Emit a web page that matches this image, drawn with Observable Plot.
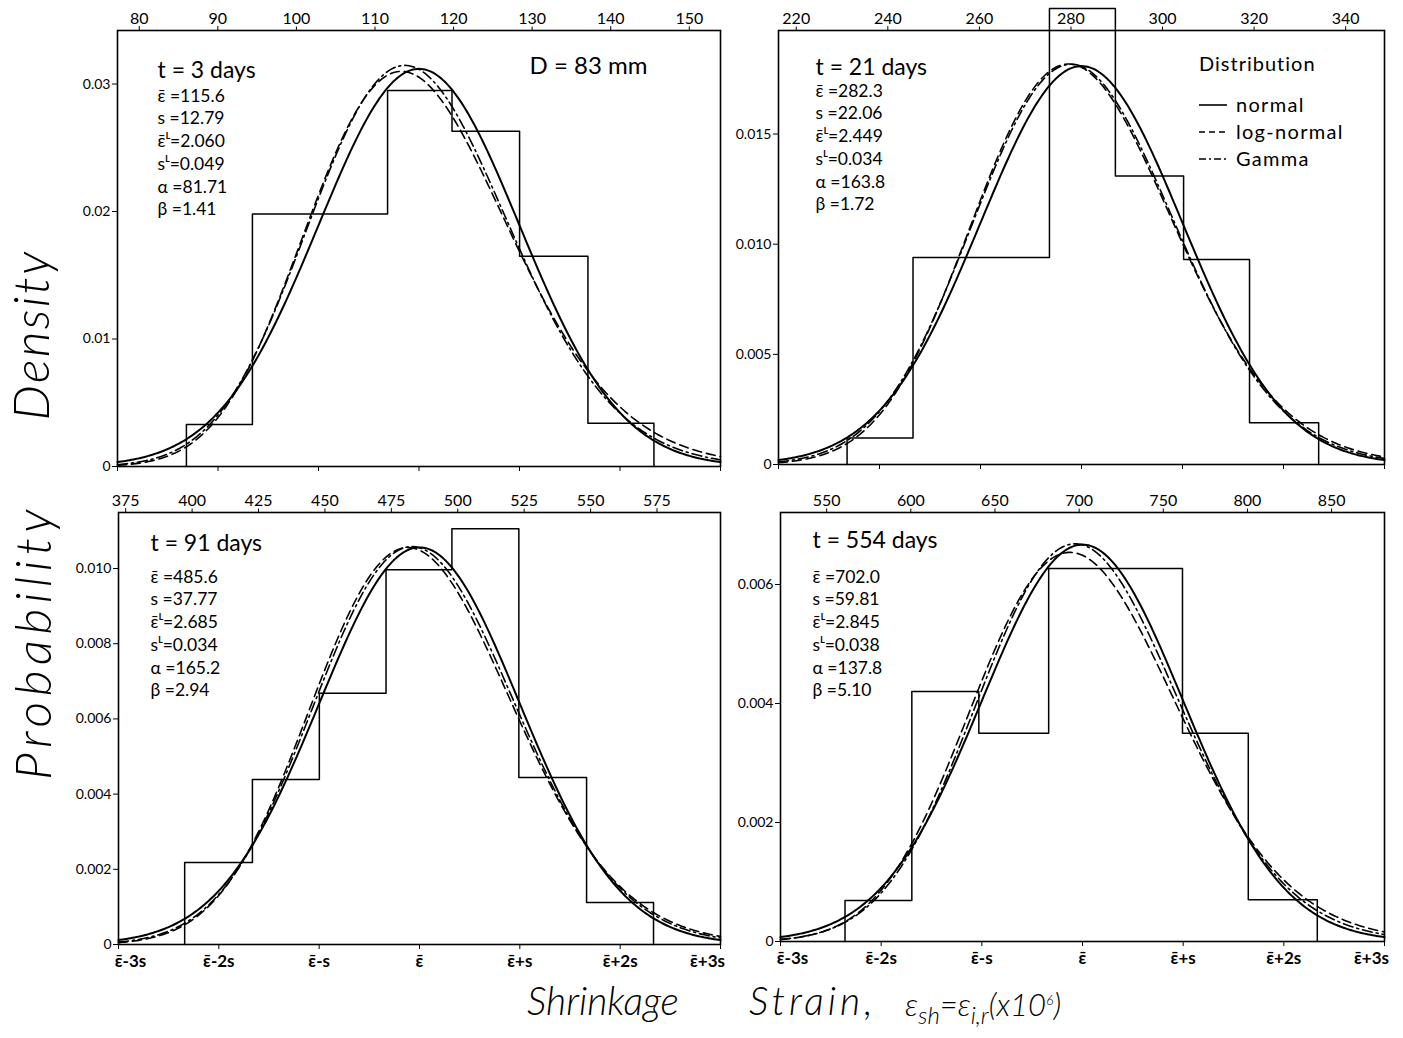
<!DOCTYPE html>
<html><head><meta charset="utf-8">
<script src="https://cdn.jsdelivr.net/npm/d3@7"></script>
<script src="https://cdn.jsdelivr.net/npm/@observablehq/plot@0.6"></script>
<style>
body{margin:0;background:#fff;}
#chart{position:relative;width:1403px;height:1038px;background:#fff;font-family:Lato,"DejaVu Sans",sans-serif;color:#000;overflow:hidden;}
.panel{position:absolute;}
.panel svg{background:transparent !important;overflow:visible;}
.ylab{position:absolute;font-family:Lato,"DejaVu Sans",sans-serif;font-style:italic;font-weight:300;font-size:50px;white-space:nowrap;text-align:center;transform:rotate(-90deg);transform-origin:center;}
.xpart{position:absolute;top:976px;font-family:Lato,"DejaVu Sans",sans-serif;font-style:italic;font-weight:300;font-size:39px;white-space:nowrap;line-height:48px;}
.legend{position:absolute;left:1199px;top:50px;font-size:20px;line-height:27px;}
.legend .row{display:flex;align-items:center;letter-spacing:1.3px;}
.legend svg{width:28px;height:10px;margin-right:9px;}
</style></head>
<body><div id="chart"></div>
<script>
// ---- data ----
const panelTitles = ["t = 3 days", "t = 21 days", "t = 91 days", "t = 554 days"];
const means   = [115.6, 282.3, 485.6, 702.0];
const sds     = [12.79, 22.06, 37.77, 59.81];
const logMeans= [2.060, 2.449, 2.685, 2.845];
const logSds  = [0.049, 0.034, 0.034, 0.038];
const alphas  = [81.71, 163.8, 165.2, 137.8];
const betas   = [1.41, 1.72, 2.94, 5.10];
const meanLabels = ["115.6", "282.3", "485.6", "702.0"];
const sdLabels   = ["12.79", "22.06", "37.77", "59.81"];
const logMeanLabels = ["2.060", "2.449", "2.685", "2.845"];
const logSdLabels   = ["0.049", "0.034", "0.034", "0.038"];
const alphaLabels = ["81.71", "163.8", "165.2", "137.8"];
const betaLabels  = ["1.41", "1.72", "2.94", "5.10"];

const topTicks = [
  [80, 90, 100, 110, 120, 130, 140, 150],
  [220, 240, 260, 280, 300, 320, 340],
  [375, 400, 425, 450, 475, 500, 525, 550, 575],
  [550, 600, 650, 700, 750, 800, 850]
];
const yTicks = [
  [0, 0.01, 0.02, 0.03],
  [0, 0.005, 0.010, 0.015],
  [0, 0.002, 0.004, 0.006, 0.008, 0.010],
  [0, 0.002, 0.004, 0.006]
];
const yDecimals = [2, 3, 3, 3];
const yTops = [0.0342, 0.0197, 0.01149, 0.00721];

const binEdges = [
  [86.0, 94.4, 111.6, 119.8, 128.4, 137.1, 145.5],
  [231.1, 245.5, 275.3, 289.7, 304.6, 319.0, 334.1],
  [397.2, 422.7, 447.9, 473.0, 497.8, 523.0, 548.5, 573.7],
  [560.9, 600.6, 640.4, 681.9, 761.4, 800.5, 841.5]
];
const binHeights = [
  [0.0033, 0.0198, 0.0295, 0.0263, 0.0165, 0.0034],
  [0.0012, 0.0094, 0.0207, 0.0131, 0.0093, 0.0019],
  [0.00218, 0.00439, 0.00668, 0.00997, 0.01106, 0.00444, 0.00112],
  [0.00069, 0.0042, 0.0035, 0.00627, 0.0035, 0.0007]
];
const sigmaSteps  = [-3, -2, -1, 0, 1, 2, 3];
const sigmaLabels = ["ε̄-3s", "ε̄-2s", "ε̄-s", "ε̄", "ε̄+s", "ε̄+2s", "ε̄+3s"];
const legendItems = ["normal", "log-normal", "Gamma"];

// ---- layout of each panel (positions/sizes only) ----
const layout = [
  {left: 40,  top: 0,   width: 690, height: 486, mL: 77, mR: 10, mT: 30, mB: 20, bottomLabels: false,
   title: {dx: 40, dy: 40}, params: {dx: 40, dy: 55}},
  {left: 700, top: 0,   width: 694, height: 484, mL: 78, mR: 10, mT: 30, mB: 20, bottomLabels: false,
   title: {dx: 37, dy: 37}, params: {dx: 37, dy: 50}},
  {left: 40,  top: 480, width: 690, height: 504, mL: 78, mR: 10, mT: 32, mB: 40, bottomLabels: true,
   title: {dx: 32, dy: 31}, params: {dx: 32, dy: 54}},
  {left: 700, top: 480, width: 694, height: 501, mL: 80, mR: 10, mT: 32, mB: 40, bottomLabels: true,
   title: {dx: 32, dy: 28}, params: {dx: 32, dy: 54}}
];

function lnGamma(z) {
  return (z - 0.5) * Math.log(z) - z + 0.5 * Math.log(2 * Math.PI) + 1 / (12 * z) - 1 / (360 * z * z * z);
}

const chart = document.getElementById("chart");

for (let i = 0; i < 4; i++) {
  const L = layout[i];
  const m = means[i], s = sds[i];
  const lo = m - 3 * s, hi = m + 3 * s;
  const xs = d3.range(0, 301).map(k => lo + (hi - lo) * k / 300);
  const normal = xs.map(x => ({x, y: Math.exp(-((x - m) ** 2) / (2 * s * s)) / (s * Math.sqrt(2 * Math.PI))}));
  const lm = logMeans[i], ls = logSds[i];
  const lognormal = xs.map(x => ({x, y: Math.exp(-((Math.log10(x) - lm) ** 2) / (2 * ls * ls)) / (x * ls * Math.LN10 * Math.sqrt(2 * Math.PI))}));
  const a = alphas[i], b = betas[i];
  const gamma = xs.map(x => ({x, y: Math.exp((a - 1) * Math.log(x) - x / b - lnGamma(a) - a * Math.log(b))}));

  const e = binEdges[i], h = binHeights[i];
  const hist = [{x: e[0], y: 0}];
  h.forEach((v, j) => { hist.push({x: e[j], y: v}); hist.push({x: e[j + 1], y: v}); });
  hist.push({x: e[e.length - 1], y: 0});

  const sigmaTicks = sigmaSteps.map(k => m + k * s);
  const paramText = [
    "ε̄ =" + meanLabels[i],
    "s =" + sdLabels[i],
    "ε̄ᴸ=" + logMeanLabels[i],
    "sᴸ=" + logSdLabels[i],
    "α =" + alphaLabels[i],
    "β =" + betaLabels[i]
  ].join("\n");

  const marks = [
    Plot.line(hist, {x: "x", y: "y", stroke: "black", strokeWidth: 1.5}),
    Plot.line(normal, {x: "x", y: "y", stroke: "black", strokeWidth: 2}),
    Plot.line(lognormal, {x: "x", y: "y", stroke: "black", strokeWidth: 1.6, strokeDasharray: "9,5"}),
    Plot.line(gamma, {x: "x", y: "y", stroke: "black", strokeWidth: 1.6, strokeDasharray: "10,4,2,4"}),
    Plot.frame({stroke: "black", strokeWidth: 1.6}),
    Plot.axisY({ticks: yTicks[i], tickSize: 5, tickPadding: 2, label: null, fontSize: 14,
      tickFormat: d => d === 0 ? "0" : d.toFixed(yDecimals[i])}),
    Plot.axisX({anchor: "top", ticks: topTicks[i], tickSize: 5, tickPadding: 2, label: null, fontSize: 16,
      tickFormat: d => String(d), textStroke: "white", textStrokeWidth: 5}),
    Plot.axisX({anchor: "bottom", ticks: sigmaTicks, tickSize: 5, label: null, tickFormat: () => ""}),
    Plot.text([panelTitles[i]], {frameAnchor: "top-left", dx: L.title.dx, dy: L.title.dy,
      textAnchor: "start", lineAnchor: "middle", fontSize: 23}),
    Plot.text([paramText], {frameAnchor: "top-left", dx: L.params.dx, dy: L.params.dy,
      textAnchor: "start", lineAnchor: "top", fontSize: 17.5, lineHeight: 1.3})
  ];
  if (L.bottomLabels) {
    const lab = {x: d => d, text: d => sigmaLabels[sigmaTicks.indexOf(d)], frameAnchor: "bottom",
      dy: 17, lineAnchor: "middle", fontSize: 17, fontWeight: "bold", textAnchor: "middle"};
    marks.push(Plot.text(sigmaTicks.slice(1, -1), lab));
    marks.push(Plot.text(sigmaTicks.slice(0, 1), {...lab, dx: 12}));
    marks.push(Plot.text(sigmaTicks.slice(-1), {...lab, dx: -13}));
  }
  if (i === 0) {
    marks.push(Plot.text(["D = 83 mm"], {frameAnchor: "top-right", dx: -73, dy: 36,
      textAnchor: "end", lineAnchor: "middle", fontSize: 24}));
  }

  const svg = Plot.plot({
    width: L.width, height: L.height,
    marginLeft: L.mL, marginRight: L.mR, marginTop: L.mT, marginBottom: L.mB,
    style: {fontFamily: "Lato, 'DejaVu Sans', sans-serif", fontSize: "13.5px", background: "transparent", color: "black", overflow: "visible"},
    x: {domain: [lo, hi]},
    y: {domain: [0, yTops[i]]},
    marks
  });
  const div = document.createElement("div");
  div.className = "panel";
  div.style.left = L.left + "px";
  div.style.top = L.top + "px";
  div.appendChild(svg);
  chart.appendChild(div);
}

// legend (panel 2)
const legendDash = ["none", "6,4", "7,3,2,3"];
const legend = document.createElement("div");
legend.className = "legend";
legend.innerHTML = `<div style="margin-bottom:14px;letter-spacing:1px">Distribution</div>` +
  legendItems.map((t, j) => `<div class="row"><svg viewBox="0 0 28 10"><line x1="0" y1="5" x2="28" y2="5" stroke="black" stroke-width="1.6" stroke-dasharray="${legendDash[j]}"/></svg><span>${t}</span></div>`).join("");
chart.appendChild(legend);

// axis titles
function addYLabel(text, cx, cy, w, ls) {
  const d = document.createElement("div");
  d.className = "ylab"; d.textContent = text;
  d.style.width = w + "px"; d.style.height = "60px"; d.style.lineHeight = "60px";
  d.style.letterSpacing = ls + "px";
  d.style.left = (cx - w / 2) + "px"; d.style.top = (cy - 30) + "px";
  chart.appendChild(d);
}
addYLabel("Density", 30, 335, 240, 2.3);
addYLabel("Probability", 32, 642, 340, 5.5);

function addXPart(html, left, extra) {
  const d = document.createElement("div");
  d.className = "xpart"; d.innerHTML = html; d.style.left = left + "px";
  if (extra) Object.assign(d.style, extra);
  chart.appendChild(d);
}
addXPart("Shrinkage", 527);
addXPart("Strain,", 749, {letterSpacing: "4px"});
addXPart(`ε<sub style="font-size:24px">sh</sub>=ε<sub style="font-size:24px">i,r</sub>(x10<sup style="font-size:14px">6</sup>)`, 905, {fontSize: "31px"});
</script>
</body></html>
